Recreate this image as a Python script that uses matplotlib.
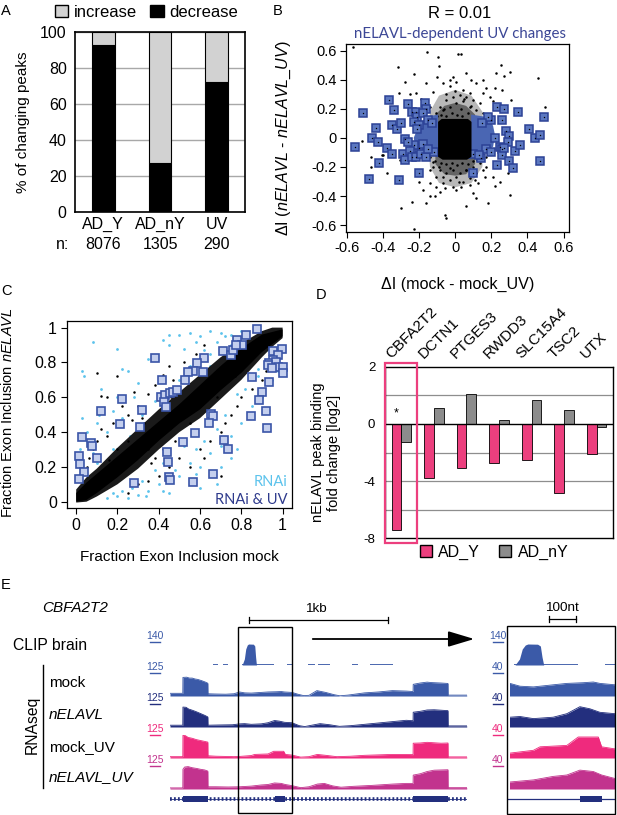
import matplotlib
matplotlib.use('Agg')
import matplotlib.pyplot as plt
from matplotlib.patches import Patch, Rectangle, FancyArrowPatch
from matplotlib.lines import Line2D
import numpy as np

plt.rcParams['font.family'] = ['Liberation Sans', 'DejaVu Sans']
plt.rcParams['mathtext.fontset'] = 'custom'
plt.rcParams['mathtext.rm'] = 'Liberation Sans'
plt.rcParams['mathtext.it'] = 'Liberation Sans:italic'
plt.rcParams['axes.unicode_minus'] = False

# ---------------- data ----------------
# A: % of changing peaks
a_groups = ['AD_Y', 'AD_nY', 'UV']
a_n = ['8076', '1305', '290']
a_decrease = [93, 27, 72]
a_increase = [7, 73, 28]

# B: delta I scatter (mock - mock_UV vs nELAVL - nELAVL_UV)
b_dots = [(-0.565, 0.623), (-0.155, 0.589), (-0.096, 0.554), (0.015, 0.575), (0.030, 0.575),
          (-0.09, 0.497), (-0.315, 0.485), (-0.226, 0.44), (0.058, 0.444), (0.252, 0.501),
          (0.302, 0.456), (0.27, 0.428), (-0.28, 0.387), (-0.161, 0.375), (-0.309, 0.307),
          (-0.22, 0.311), (0.172, 0.341), (0.459, 0.41), (0.496, 0.21), (0.219, 0.341),
          (0.311, 0.261), (-0.467, -0.129), (-0.405, -0.117), (-0.398, -0.117), (-0.467, -0.197),
          (-0.518, -0.025), (-0.378, -0.239), (-0.305, -0.151), (0.209, -0.266), (0.293, -0.243),
          (0.302, -0.392), (0.246, -0.30), (-0.30, -0.484), (-0.239, -0.438), (-0.161, -0.449),
          (-0.087, -0.369), (-0.059, -0.53), (-0.05, -0.548), (-0.226, -0.626), (0.061, -0.465),
          (0.182, -0.449), (0.117, -0.415), (0.006, -0.358), (-0.142, -0.403), (0.191, 0.284),
          (-0.124, 0.318), (-0.068, 0.375), (-0.031, 0.398), (0.117, 0.375), (0.08, 0.307),
          (0.228, 0.444), (0.154, 0.307), (0.006, 0.387), (-0.142, 0.215), (0.154, 0.398),
          (0.043, 0.33), (-0.031, 0.353), (-0.013, 0.421),
          (-0.142, -0.22), (-0.105, -0.266), (-0.068, -0.312), (-0.031, -0.289), (0.006, -0.266),
          (0.043, -0.30), (0.08, -0.277), (0.117, -0.243), (0.154, -0.22), (-0.124, -0.197),
          (-0.087, -0.22), (-0.05, -0.243), (-0.013, -0.22), (0.024, -0.243), (0.061, -0.22),
          (0.098, -0.197), (0.135, -0.174), (0.172, -0.197), (-0.105, 0.169), (-0.068, 0.192),
          (-0.031, 0.215), (0.006, 0.238), (0.043, 0.25), (0.08, 0.215), (0.117, 0.192),
          (0.154, 0.169), (-0.087, 0.215), (-0.05, 0.261), (-0.013, 0.284), (0.024, 0.295),
          (0.061, 0.284), (0.098, 0.261), (0.135, 0.238), (-0.142, -0.312), (-0.105, -0.335),
          (-0.059, -0.346), (-0.013, -0.335), (0.033, -0.335), (0.08, -0.323), (0.126, -0.312),
          (0.163, -0.266), (-0.161, 0.055), (-0.17, -0.014), (0.191, 0.032), (0.2, -0.048),
          (0.172, -0.129), (-0.142, -0.129), (-0.124, -0.163),
          (-0.12, 0.14), (-0.1, 0.15), (-0.08, 0.16), (-0.05, 0.15), (-0.02, 0.17), (0.01, 0.16),
          (0.04, 0.15), (0.07, 0.17), (0.1, 0.15), (0.12, 0.14), (-0.11, -0.16), (-0.08, -0.17),
          (-0.05, -0.18), (-0.02, -0.17), (0.01, -0.19), (0.04, -0.17), (0.07, -0.18), (0.1, -0.16),
          (0.12, -0.15), (-0.06, 0.2), (0.03, 0.2), (0.09, 0.22), (-0.03, -0.21), (0.06, -0.22),
          (-0.09, -0.2), (0.0, 0.32), (-0.05, 0.3), (0.05, 0.27), (0.02, -0.3), (-0.07, -0.27),
          (0.11, -0.29), (-0.19, 0.27), (0.21, 0.25), (-0.2, -0.3), (0.22, -0.33), (-0.1, 0.42),
          (0.09, 0.4), (-0.11, -0.4), (0.1, -0.38), (-0.25, 0.3), (0.26, 0.33), (-0.18, -0.36)]
b_uv = [(-0.555, -0.064), (-0.51, 0.17), (-0.44, 0.07), (-0.46, 0.0), (-0.43, -0.03),
        (-0.42, -0.17), (-0.48, -0.28), (-0.365, 0.26), (-0.34, 0.19), (-0.35, 0.09),
        (-0.32, 0.06), (-0.30, 0.10), (-0.38, -0.07), (-0.35, -0.11), (-0.29, -0.11),
        (-0.28, -0.15), (-0.31, -0.29), (-0.28, -0.01), (-0.26, 0.23), (-0.24, 0.18),
        (-0.22, 0.18), (-0.21, 0.14), (-0.23, 0.11), (-0.20, 0.09), (-0.21, 0.06),
        (-0.20, -0.07), (-0.23, -0.05), (-0.25, -0.09), (-0.24, -0.13), (-0.22, -0.13),
        (-0.19, -0.11), (-0.16, -0.13), (-0.17, 0.24), (-0.16, 0.20), (-0.18, 0.17),
        (-0.20, -0.24), (-0.26, -0.03), (-0.18, -0.04), (-0.15, 0.12), (-0.13, 0.1),
        (-0.12, -0.1), (-0.15, -0.08),
        (0.23, 0.21), (0.27, 0.20), (0.35, 0.18), (0.26, 0.12), (0.28, 0.05), (0.22, 0.0),
        (0.30, 0.01), (0.29, -0.03), (0.25, -0.06), (0.26, -0.08), (0.26, -0.12), (0.27, -0.07),
        (0.33, -0.09), (0.36, -0.05), (0.30, -0.16), (0.32, -0.21), (0.23, -0.19), (0.14, -0.14),
        (0.10, -0.24), (0.41, 0.06), (0.44, 0.0), (0.47, 0.02), (0.49, 0.14), (0.47, -0.16),
        (0.10, -0.11), (0.2, 0.12), (0.18, 0.14), (0.15, 0.1), (0.17, -0.08), (0.2, -0.1),
        (0.13, -0.12)]
# dense clouds, outlined
b_halo_outer = [(-0.15, 0.0), (-0.14, 0.18), (-0.09, 0.29), (0.0, 0.33), (0.09, 0.29),
                (0.15, 0.18), (0.16, 0.0), (0.15, -0.2), (0.09, -0.31), (0.0, -0.34),
                (-0.09, -0.31), (-0.14, -0.2)]
b_halo_inner = [(-0.11, 0.0), (-0.11, 0.16), (-0.06, 0.22), (0.0, 0.24), (0.06, 0.22),
                (0.11, 0.16), (0.11, 0.0), (0.11, -0.18), (0.06, -0.25), (0.0, -0.26),
                (-0.06, -0.25), (-0.11, -0.18)]
b_core = [(-0.095, -0.13), (-0.095, 0.11), (-0.075, 0.13), (0.07, 0.13), (0.09, 0.11),
          (0.09, -0.13), (0.065, -0.15), (-0.07, -0.15)]
b_uv_left = [(-0.095, 0.16), (-0.14, 0.15), (-0.18, 0.12), (-0.21, 0.06), (-0.23, 0.0),
             (-0.22, -0.07), (-0.18, -0.1), (-0.13, -0.12), (-0.095, -0.13)]
b_uv_right = [(0.088, 0.16), (0.14, 0.15), (0.19, 0.14), (0.21, 0.08), (0.22, 0.02),
              (0.21, -0.06), (0.17, -0.1), (0.12, -0.12), (0.088, -0.13)]
b_ticks = [-0.6, -0.4, -0.2, 0, 0.2, 0.4, 0.6]
b_ticklabels = ['-0.6', '-0.4', '-0.2', '0', '0.2', '0.4', '0.6']

# C: fraction exon inclusion mock vs nELAVL
c_band_outer = [(0.0, 0.07), (0.05, 0.14), (0.1, 0.19), (0.2, 0.31), (0.3, 0.42), (0.4, 0.53),
                (0.5, 0.63), (0.6, 0.73), (0.7, 0.83), (0.8, 0.91), (0.9, 0.98), (0.95, 1.0),
                (1.0, 1.0), (1.0, 0.94), (0.95, 0.89), (0.9, 0.83), (0.8, 0.7), (0.7, 0.59),
                (0.6, 0.48), (0.5, 0.4), (0.4, 0.3), (0.3, 0.19), (0.2, 0.1), (0.1, 0.03),
                (0.05, 0.0), (0.0, -0.005)]
c_band_inner = [(0.0, 0.05), (0.05, 0.11), (0.1, 0.16), (0.2, 0.26), (0.3, 0.36), (0.4, 0.46),
                (0.5, 0.56), (0.6, 0.67), (0.7, 0.78), (0.8, 0.88), (0.9, 0.96), (1.0, 0.99),
                (1.0, 0.95), (0.9, 0.86), (0.8, 0.74), (0.7, 0.64), (0.6, 0.53), (0.5, 0.45),
                (0.4, 0.35), (0.3, 0.24), (0.2, 0.14), (0.1, 0.05), (0.05, 0.01), (0.0, 0.0)]
c_dots = [(0.1, 0.74), (0.12, 0.61), (0.2, 0.72), (0.22, 0.55), (0.25, 0.5), (0.27, 0.47),
          (0.3, 0.55), (0.35, 0.62), (0.38, 0.67), (0.42, 0.73), (0.45, 0.78), (0.47, 0.7),
          (0.52, 0.8), (0.55, 0.75), (0.28, 0.63), (0.18, 0.45), (0.15, 0.38), (0.1, 0.35),
          (0.08, 0.3), (0.12, 0.42), (0.5, 0.25), (0.55, 0.2), (0.6, 0.3), (0.62, 0.25),
          (0.65, 0.35), (0.7, 0.4), (0.72, 0.45), (0.75, 0.5), (0.78, 0.55), (0.8, 0.6),
          (0.85, 0.65), (0.45, 0.2), (0.4, 0.15), (0.42, 0.3), (0.38, 0.25), (0.35, 0.3),
          (0.6, 0.55), (0.65, 0.5), (0.68, 0.6), (0.55, 0.45), (0.48, 0.35), (0.58, 0.85),
          (0.62, 0.9), (0.3, 0.1), (0.35, 0.12), (0.25, 0.05), (0.05, 0.2), (0.06, 0.25),
          (0.15, 0.6), (0.33, 0.45), (0.9, 0.7), (0.92, 0.75), (0.88, 0.6), (0.7, 0.15),
          (0.52, 0.55), (0.46, 0.6), (0.25, 0.35), (0.2, 0.3), (0.57, 0.4), (0.63, 0.45),
          (0.73, 0.7), (0.77, 0.72), (0.32, 0.48), (0.44, 0.42), (0.58, 0.62), (0.66, 0.72),
          (0.24, 0.22), (0.36, 0.22), (0.48, 0.5), (0.7, 0.68), (0.16, 0.24), (0.12, 0.09)]
c_rnai = [(0.03, 0.75), (0.04, 0.72), (0.08, 0.92), (0.1, 0.45), (0.12, 0.65), (0.2, 0.88),
          (0.25, 0.75), (0.35, 0.82), (0.42, 0.93), (0.5, 0.96), (0.55, 0.97), (0.6, 0.95),
          (0.65, 0.98), (0.7, 0.97), (0.45, 0.9), (0.52, 0.88), (0.58, 0.92), (0.62, 0.87),
          (0.68, 0.92), (0.72, 0.95), (0.75, 0.96), (0.8, 0.98), (0.82, 0.95), (0.3, 0.68),
          (0.28, 0.6), (0.22, 0.48), (0.18, 0.52), (0.15, 0.4), (0.05, 0.4), (0.03, 0.48),
          (0.08, 0.28), (0.1, 0.22), (0.2, 0.6), (0.32, 0.5), (0.38, 0.58), (0.48, 0.66),
          (0.5, 0.7), (0.55, 0.78), (0.6, 0.82), (0.65, 0.85), (0.15, 0.02), (0.2, 0.03),
          (0.25, 0.02), (0.3, 0.04), (0.35, 0.06), (0.4, 0.1), (0.45, 0.12), (0.5, 0.15),
          (0.55, 0.22), (0.6, 0.2), (0.65, 0.28), (0.7, 0.32), (0.75, 0.38), (0.8, 0.45),
          (0.85, 0.55), (0.9, 0.6), (0.95, 0.7), (0.98, 0.75), (0.92, 0.8), (0.88, 0.72),
          (0.82, 0.65), (0.78, 0.62), (0.72, 0.5), (0.68, 0.42), (0.62, 0.35), (0.58, 0.3),
          (0.52, 0.32), (0.48, 0.18), (0.42, 0.22), (0.38, 0.18), (0.32, 0.12), (0.27, 0.08),
          (0.22, 0.06), (0.18, 0.05), (0.65, 0.15), (0.7, 0.2), (0.75, 0.25), (0.6, 0.08),
          (0.55, 0.1), (0.45, 0.05), (0.12, 0.12), (0.08, 0.16), (0.06, 0.1), (0.5, 0.42),
          (0.44, 0.38), (0.36, 0.44), (0.26, 0.38), (0.18, 0.3), (0.95, 0.85), (0.85, 0.8),
          (0.78, 0.85), (0.75, 0.9), (0.7, 0.88), (0.65, 0.78), (0.58, 0.7), (0.42, 0.5),
          (0.35, 0.38), (0.3, 0.28), (0.28, 0.2), (0.22, 0.76), (0.45, 0.96), (0.86, 0.9),
          (0.92, 0.87), (0.97, 0.82), (0.88, 0.76), (0.02, 0.3), (0.05, 0.35), (0.11, 0.5),
          (0.34, 0.03), (0.42, 0.06), (0.58, 0.16), (0.78, 0.3), (0.68, 0.1)]
c_rnai_uv = [(0.877, 0.993), (0.781, 0.929), (0.802, 0.901), (0.822, 0.958), (0.713, 0.866),
             (0.748, 0.843), (0.758, 0.872), (0.772, 0.901), (0.955, 0.866), (0.995, 0.876),
             (0.979, 0.843), (0.955, 0.814), (0.935, 0.795), (0.968, 0.805), (0.979, 0.776),
             (1.0, 0.776), (1.0, 0.738), (0.927, 0.786), (0.948, 0.770), (0.851, 0.719),
             (0.934, 0.690), (0.898, 0.629), (0.885, 0.585), (0.918, 0.521), (0.848, 0.491),
             (0.926, 0.426), (0.382, 0.824), (0.619, 0.824), (0.584, 0.795), (0.564, 0.751),
             (0.542, 0.747), (0.527, 0.699), (0.616, 0.747), (0.418, 0.699), (0.410, 0.604),
             (0.431, 0.613), (0.455, 0.623), (0.471, 0.632), (0.487, 0.642), (0.423, 0.571),
             (0.434, 0.546), (0.221, 0.590), (0.121, 0.523), (0.321, 0.529), (0.653, 0.504),
             (0.663, 0.491), (0.645, 0.450), (0.210, 0.445), (0.310, 0.427), (0.574, 0.395),
             (0.516, 0.345), (0.718, 0.357), (0.734, 0.303), (0.439, 0.288), (0.445, 0.226),
             (0.029, 0.370), (0.073, 0.339), (0.077, 0.322), (0.103, 0.253), (0.013, 0.265),
             (0.019, 0.215), (0.039, 0.171), (0.016, 0.129), (0.452, 0.142), (0.455, 0.123),
             (0.564, 0.115), (0.664, 0.159), (0.28, 0.11)]
c_ticks = [0, 0.2, 0.4, 0.6, 0.8, 1]
c_ticklabels = ['0', '0.2', '0.4', '0.6', '0.8', '1']

# D: nELAVL peak binding fold change (log2), plotted on the chart's own grid
d_genes = ['CBFA2T2', 'DCTN1', 'PTGES3', 'RWDD3', 'SLC15A4', 'TSC2', 'UTX']
d_ad_y = [-7.4, -3.8, -3.1, -2.7, -2.5, -4.8, -2.1]
d_ad_ny = [-1.3, 1.1, 2.1, 0.3, 1.7, 1.0, -0.25]
d_ticks = [4, 0, -4, -8]
d_ticklabels = ['2', '0', '-4', '-8']
d_grid = [2, -2, -4, -6]

# E: CBFA2T2 browser tracks (position in bp, coverage in reads)
clip_bp = [515, 519, 535, 545, 556, 565, 600, 610, 616, 622]
clip_rd = [0, 0, 30, 80, 100, 105, 104, 95, 40, 0]
clip_segments = [(308, 344), (381, 417), (515, 746), (843, 885), (993, 1043),
                 (1065, 1151), (1309, 1352), (1438, 1603)]
mock_bp = [0, 92, 93, 120, 140, 160, 180, 200, 230, 255, 272, 273, 320, 400, 460, 501, 537, 585,
           656, 705, 764, 800, 824, 878, 920, 960, 1000, 1057, 1120, 1180, 1222, 1280, 1400,
           1500, 1600, 1700, 1749, 1750, 1800, 1850, 1880, 1950, 2000, 2001, 2135]
mock_rd = [12, 12, 83, 84, 80, 80, 76, 74, 68, 62, 57, 10, 9, 8, 10, 18, 14, 13,
           16, 18, 19, 20, 18, 16, 8, 2, 3, 24, 16, 6, 1, 4, 14,
           18, 24, 22, 20, 52, 58, 62, 60, 58, 56, 4, 4]
nelavl_bp = [0, 92, 93, 115, 135, 160, 190, 220, 250, 272, 273, 350, 450, 501, 537, 585, 656,
             705, 752, 788, 824, 878, 930, 970, 1020, 1080, 1150, 1220, 1300, 1400, 1500, 1600,
             1700, 1749, 1750, 1800, 1850, 1900, 1950, 2000, 2001, 2135]
nelavl_rd = [8, 8, 89, 88, 80, 75, 68, 60, 52, 45, 8, 9, 10, 14, 15, 12, 14,
             19, 29, 26, 21, 19, 6, 2, 8, 15, 10, 3, 6, 12, 18, 24,
             30, 28, 66, 70, 76, 77, 75, 73, 5, 5]
mockuv_bp = [0, 92, 93, 110, 130, 160, 190, 220, 250, 272, 273, 330, 400, 460, 501, 585, 609,
             705, 746, 818, 830, 878, 940, 1000, 1060, 1120, 1200, 1300, 1400, 1500, 1600,
             1700, 1749, 1750, 1800, 1850, 1900, 1950, 2000, 2001, 2135]
mockuv_rd = [6, 6, 101, 100, 92, 88, 82, 78, 74, 71, 10, 8, 7, 6, 7, 11, 16,
             18, 30, 30, 16, 13, 4, 6, 16, 12, 6, 8, 12, 14, 16,
             16, 15, 66, 67, 70, 68, 66, 67, 5, 5]
nelavluv_bp = [0, 92, 93, 105, 130, 160, 190, 220, 250, 272, 273, 330, 420, 501, 585, 656, 705,
               752, 800, 830, 878, 940, 1000, 1060, 1110, 1170, 1230, 1320, 1450, 1600, 1700,
               1749, 1750, 1800, 1850, 1900, 1950, 2000, 2001, 2135]
nelavluv_rd = [5, 5, 88, 98, 100, 95, 92, 88, 85, 80, 10, 10, 9, 10, 13, 18, 20,
               27, 25, 20, 15, 6, 10, 22, 25, 14, 8, 12, 16, 22, 25,
               25, 62, 68, 78, 84, 85, 86, 6, 6]
exons = [(93, 273), (752, 830), (1750, 2001)]
track_names = ['mock', 'nELAVL', 'mock_UV', 'nELAVL_UV']
track_italic = [False, True, False, True]
track_colors = ['#3b5aa8', '#232f7e', '#ef2a7d', '#c2338e']
track_data = [(mock_bp, mock_rd), (nelavl_bp, nelavl_rd),
              (mockuv_bp, mockuv_rd), (nelavluv_bp, nelavluv_rd)]
main_scale = [140, 125, 125, 125, 125]
zoom_scale = [140, 40, 40, 40, 40]

# ---------------- figure ----------------
W, H = 617, 815
fig = plt.figure(figsize=(W / 100, H / 100), dpi=100)


def box(l, t, r, b):
    return [l / W, 1 - b / H, (r - l) / W, (b - t) / H]


def fx(x):
    return x / W


def fy(y):
    return 1 - y / H


for letter, (lx, ly) in zip('ABCDE', [(6, 11), (278, 11), (6, 291), (321, 295), (6, 585)]):
    fig.text(fx(lx), fy(ly), letter, fontsize=10.5, ha='center', va='center')

# ---- A ----
axA = fig.add_axes(box(75, 32, 245, 212))
xa = np.arange(len(a_groups))
axA.bar(xa, a_decrease, 0.4, color='black', edgecolor='black', lw=0.8, zorder=3)
axA.bar(xa, a_increase, 0.4, bottom=a_decrease, color='#d2d2d2', edgecolor='black', lw=0.8, zorder=3)
axA.set_xlim(-0.5, 2.5)
axA.set_ylim(0, 100)
axA.set_yticks([0, 20, 40, 60, 80, 100])
axA.yaxis.grid(True, color='#a8a8a8', lw=1)
axA.set_axisbelow(True)
axA.set_xticks([])
axA.tick_params(length=0, labelsize=11.5, pad=6)
for s in axA.spines.values():
    s.set_linewidth(1.2)
axA.set_ylabel('% of changing peaks', fontsize=11)
axA.yaxis.set_label_coords(-0.265, 0.5)
tr = axA.get_xaxis_transform()
for i, (g, n) in enumerate(zip(a_groups, a_n)):
    axA.text(i, -0.067, g, transform=tr, ha='center', va='center', fontsize=11.5)
    axA.text(i, -0.183, n, transform=tr, ha='center', va='center', fontsize=11.5)
axA.text(-0.07, -0.183, 'n:', transform=axA.transAxes, ha='center', va='center', fontsize=11.5)
axA.legend([Patch(facecolor='#d2d2d2', edgecolor='black'), Patch(facecolor='black', edgecolor='black')],
           ['increase', 'decrease'], ncol=2, loc='center', bbox_to_anchor=(0.42, 1.11),
           frameon=False, fontsize=12, handlelength=0.8, handleheight=0.8,
           handletextpad=0.35, columnspacing=0.8, borderpad=0, borderaxespad=0)

# ---- B ----
axB = fig.add_axes(box(346, 44, 569, 231.7))
uv_face, uv_edge = '#5c78c0', '#2c4296'
axB.fill(*zip(*b_halo_outer), color='black', alpha=0.28, lw=0, zorder=1)
axB.fill(*zip(*b_halo_inner), color='black', alpha=0.45, lw=0, zorder=1)
axB.plot(*zip(*b_dots), 'o', color='black', ms=1.8, mew=0, zorder=2)
for poly in (b_uv_left, b_uv_right):
    axB.fill(*zip(*poly), color='#4a66b3', lw=0, zorder=3)
axB.plot(*zip(*b_uv), 's', mfc=uv_face, mec=uv_edge, ms=5.2, mew=1.1, zorder=4)
axB.plot(*zip(*b_uv), 'o', color='black', ms=1.0, mew=0, zorder=5)
axB.fill(*zip(*b_core), color='black', lw=0, zorder=6)
axB.set_xlim(-0.605, 0.63)
axB.set_ylim(-0.645, 0.645)
axB.set_xticks(b_ticks)
axB.set_xticklabels(b_ticklabels)
axB.set_yticks(b_ticks)
axB.set_yticklabels(b_ticklabels)
axB.tick_params(direction='out', length=4, width=0.8, labelsize=10.5, pad=3)
for s in axB.spines.values():
    s.set_linewidth(0.9)
axB.set_xlabel('ΔI (mock - mock_UV)', fontsize=11.6)
axB.xaxis.set_label_coords(0.5, -0.241)
axB.set_ylabel(r'ΔI ($\mathit{nELAVL}$ - $\mathit{nELAVL\_UV}$)', fontsize=11.6)
axB.yaxis.set_label_coords(-0.238, 0.5)
fig.text(fx(460), fy(14), 'R = 0.01', fontsize=12, ha='center', va='center')
fig.text(fx(460), fy(34), 'nELAVL-dependent UV changes', fontsize=10.8, ha='center',
         va='center', color='#3c4796', family=['Lato', 'DejaVu Sans'])

# ---- C ----
axC = fig.add_axes(box(66.7, 321, 291.7, 508.3))
axC.plot(*zip(*c_rnai), 'o', color='#5cc3ec', ms=2.0, mew=0, zorder=2)
axC.fill(*zip(*c_band_outer), color='#1a1a1a', lw=0, zorder=3)
axC.fill(*zip(*c_band_inner), color='black', lw=0, zorder=3)
axC.plot(*zip(*c_dots), 'o', color='black', ms=1.8, mew=0, zorder=3)
axC.plot(*zip(*c_rnai_uv), 's', mfc='#c4cfee', mec='#3b55a8', ms=5.6, mew=1.2, zorder=4)
axC.set_xlim(-0.046, 1.044)
axC.set_ylim(-0.038, 1.038)
axC.set_xticks(c_ticks)
axC.set_xticklabels(c_ticklabels)
axC.set_yticks(c_ticks)
axC.set_yticklabels(c_ticklabels)
axC.tick_params(direction='out', length=4, width=0.8, labelsize=11.5, pad=3)
for s in axC.spines.values():
    s.set_linewidth(0.9)
axC.set_xlabel('Fraction Exon Inclusion mock', fontsize=11)
axC.xaxis.set_label_coords(0.5, -0.223)
axC.set_ylabel(r'Fraction Exon Inclusion $\mathit{nELAVL}$', fontsize=10.5)
axC.yaxis.set_label_coords(-0.23, 0.51)
axC.text(0.98, 0.14, 'RNAi', transform=axC.transAxes, ha='right', va='center',
         color='#5cc3ec', fontsize=10.5, family=['Lato', 'DejaVu Sans'])
axC.text(0.98, 0.044, 'RNAi & UV', transform=axC.transAxes, ha='right', va='center',
         color='#2e3a8c', fontsize=10.5, family=['Lato', 'DejaVu Sans'])

# ---- D ----
axD = fig.add_axes(box(385, 366.7, 613, 538.3))
xd = np.arange(len(d_genes))
for g in d_grid:
    axD.axhline(g, color='#8e8e8e', lw=0.9, zorder=0)
pink = '#ec3f7e'
axD.bar(xd - 0.15, d_ad_y, 0.3, color=pink, edgecolor='black', lw=0.6, zorder=2)
axD.bar(xd + 0.15, d_ad_ny, 0.3, color='#8c8c8c', edgecolor='black', lw=0.6, zorder=2)
axD.axhline(0, color='black', lw=1, zorder=3)
axD.set_xlim(-0.5, len(d_genes) - 0.5)
axD.set_ylim(-8, 4)
axD.set_xticks([])
axD.set_yticks(d_ticks)
axD.set_yticklabels(d_ticklabels)
axD.tick_params(length=0, labelsize=9.5, pad=7)
for s in axD.spines.values():
    s.set_linewidth(1)
axD.text(-0.15, 0.3, '*', ha='center', va='bottom', fontsize=9)
axD.add_patch(Rectangle((-0.5, -8.35), 0.99, 12.63, fill=False, edgecolor=pink, lw=1.6,
                        clip_on=False, zorder=5))
for i, g in enumerate(d_genes):
    axD.annotate(g, xy=(i, 4), xytext=(-6, 4), textcoords='offset points', rotation=45,
                 rotation_mode='anchor', ha='left', va='bottom', fontsize=11,
                 annotation_clip=False)
axD.set_ylabel('nELAVL peak binding\nfold change [log2]', fontsize=10.5, linespacing=1.1)
axD.yaxis.set_label_coords(-0.195, 0.5)
axD.legend([Patch(facecolor=pink, edgecolor='black'), Patch(facecolor='#8c8c8c', edgecolor='black')],
           ['AD_Y', 'AD_nY'], ncol=2, loc='center', bbox_to_anchor=(0.478, -0.08),
           frameon=False, fontsize=11.5, handlelength=0.75, handleheight=0.75,
           handletextpad=0.4, columnspacing=1.2, borderpad=0, borderaxespad=0)

# ---- E ----
fig.text(fx(42), fy(608), 'CBFA2T2', style='italic', fontsize=11, va='center')
fig.text(fx(13), fy(646), 'CLIP brain', fontsize=11.3, va='center')
fig.add_artist(Line2D([fx(42.7), fx(42.7)], [fy(665), fy(788)], color='black', lw=1))
fig.text(fx(32), fy(725), 'RNAseq', rotation=90, ha='center', va='center', fontsize=11.3)
for name, it, ty in zip(track_names, track_italic, [683, 715, 747, 777]):
    fig.text(fx(49), fy(ty), name, fontsize=11, va='center', style='italic' if it else 'normal')

base_ys = [665, 696, 727, 758, 789]
label_cols = ['#3b5aa8'] + track_colors


def scale_label(xc, yc, txt, col):
    fig.text(fx(xc), fy(yc), txt, ha='center', va='center', fontsize=7.5, color=col)
    fig.add_artist(Line2D([fx(xc - 5), fx(xc + 5)], [fy(yc + 5.5), fy(yc + 5.5)], color=col, lw=1))


for k in range(5):
    scale_label(155, base_ys[k] - 29, str(main_scale[k]), label_cols[k])
    scale_label(498, base_ys[k] - 29, str(zoom_scale[k]), label_cols[k])

views = [(170, 466.7, (0, 2135), main_scale), (510, 615, (501, 878), zoom_scale)]
for (l, r, xl, scales) in views:
    # CLIP track
    ax = fig.add_axes(box(l, base_ys[0] - 28, r, base_ys[0]))
    ax.fill_between(clip_bp, clip_rd, 0, color='#3b5aa8', lw=0)
    for s0, s1 in clip_segments:
        ax.plot([s0, s1], [2, 2], color='#3b5aa8', lw=1.3, solid_capstyle='butt')
    ax.set_xlim(*xl)
    ax.set_ylim(0, scales[0])
    ax.axis('off')
    for k, ((bp, rd), col) in enumerate(zip(track_data, track_colors)):
        ax = fig.add_axes(box(l, base_ys[k + 1] - 28, r, base_ys[k + 1]))
        ax.fill_between(bp, rd, 0, color=col, lw=0)
        ax.plot(bp, rd, color=col, lw=0.6)
        ax.set_xlim(*xl)
        ax.set_ylim(0, scales[k + 1])
        ax.axis('off')

navy = '#232f7e'
axg = fig.add_axes(box(170, 794, 466.7, 804))
axg.plot([0, 2135], [0, 0], color=navy, lw=0.6)
axg.plot([0, 2135], [0, 0], color=navy, lw=2.6, ls=(0, (0.5, 0.6)))
for s0, s1 in exons:
    axg.add_patch(Rectangle((s0, -0.6), s1 - s0, 1.2, color=navy, lw=0))
axg.set_xlim(0, 2135)
axg.set_ylim(-1, 1)
axg.axis('off')
axg2 = fig.add_axes(box(507.3, 794, 615, 804))
axg2.plot([491, 878], [0, 0], color=navy, lw=0.9)
for s0, s1 in exons:
    axg2.add_patch(Rectangle((s0, -0.6), s1 - s0, 1.2, color=navy, lw=0))
axg2.set_xlim(491, 878)
axg2.set_ylim(-1, 1)
axg2.axis('off')

# boxes around the zoomed region
for (l, t, r, b) in [(238.3, 626.7, 292.3, 813.3), (507.3, 626, 615, 814)]:
    fig.add_artist(Rectangle((fx(l), fy(b)), (r - l) / W, (b - t) / H, transform=fig.transFigure,
                             fill=False, edgecolor='black', lw=1))

# scale bars
for (x0, x1, yb, txt, xt) in [(249.3, 388.3, 620, '1kb', 316), (549.3, 576, 619, '100nt', 562)]:
    fig.add_artist(Line2D([fx(x0), fx(x1)], [fy(yb), fy(yb)], color='black', lw=0.9))
    for xe in (x0, x1):
        fig.add_artist(Line2D([fx(xe), fx(xe)], [fy(yb - 3), fy(yb + 3)], color='black', lw=0.9))
    fig.text(fx(xt), fy(yb - 11), txt, ha='center', va='center', fontsize=9.7)

fig.add_artist(FancyArrowPatch((fx(310), fy(639)), (fx(477), fy(639)), transform=fig.transFigure,
                               arrowstyle='-|>,head_length=1.0,head_width=0.3',
                               mutation_scale=16, lw=1.3, color='black'))

fig.savefig('out.png', dpi=100)
